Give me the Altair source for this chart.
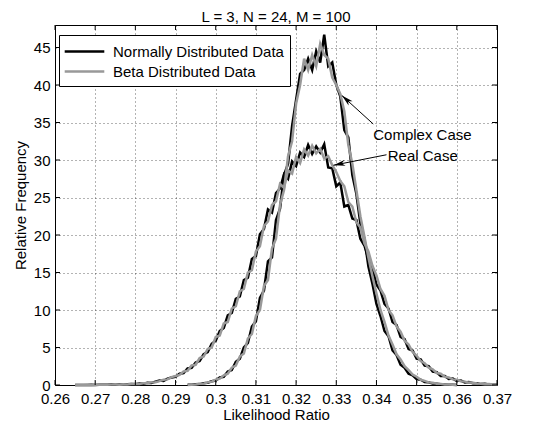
import math
import altair as alt
import pandas as pd

# ---------------- data ----------------
BIN = 0.001
REAL_START = 0.265
CPLX_START = 0.293

real_normal = [
    0.0, 0.0, 0.0, 0.0, 0.02, 0.0, 0.02, 0.03, 0.02, 0.05,
    0.04, 0.06, 0.05, 0.09, 0.12, 0.1, 0.2, 0.18, 0.3, 0.28,
    0.45, 0.6, 0.55, 0.85, 1.0, 1.1, 1.5, 1.6, 2.2, 2.3,
    3.0, 3.2, 4.1, 4.4, 5.5, 5.9, 7.2, 7.6, 9.3, 9.6,
    11.5, 11.8, 14.0, 14.3, 16.8, 17.2, 20.1, 20.8, 23.4, 23.0,
    25.6, 26.2, 28.1, 27.5, 29.8, 29.2, 31.0, 30.4, 32.0, 30.8,
    31.8, 31.0, 32.1, 29.0, 28.9, 26.5, 27.0, 23.8, 24.0, 22.2,
    22.0, 19.5, 18.6, 16.8, 15.6, 13.4, 12.6, 10.8, 10.2, 8.4,
    8.0, 6.4, 6.1, 4.8, 4.6, 3.5, 3.4, 2.6, 2.5, 1.8,
    1.7, 1.2, 1.2, 0.8, 0.85, 0.55, 0.6, 0.35, 0.4, 0.25,
    0.25, 0.12, 0.15, 0.08, 0.05, 0.03,
]
real_beta = [
    0.0, 0.01, 0.0, 0.02, 0.01, 0.03, 0.02, 0.04, 0.03, 0.05,
    0.06, 0.05, 0.08, 0.07, 0.12, 0.15, 0.14, 0.22, 0.25, 0.35,
    0.38, 0.52, 0.7, 0.75, 1.05, 1.2, 1.35, 1.8, 1.9, 2.6,
    2.7, 3.6, 3.8, 4.8, 5.0, 6.4, 6.6, 8.2, 8.4, 10.2,
    10.5, 12.5, 12.8, 15.0, 15.3, 17.8, 18.5, 21.2, 21.8, 24.0,
    24.5, 26.8, 26.3, 28.6, 28.2, 30.4, 29.6, 31.4, 30.6, 31.9,
    30.9, 31.5, 30.2, 30.5, 29.3, 28.4, 27.2, 26.5, 24.4, 23.8,
    21.7, 21.0, 18.9, 17.8, 15.9, 14.6, 12.8, 11.9, 10.0, 9.3,
    7.8, 7.1, 5.9, 5.4, 4.4, 3.9, 3.2, 2.9, 2.3, 2.1,
    1.6, 1.5, 1.1, 1.0, 0.75, 0.7, 0.5, 0.45, 0.32, 0.3,
    0.2, 0.18, 0.1, 0.12, 0.06, 0.04,
]
cplx_normal = [
    0.02, 0.05, 0.1, 0.12, 0.25, 0.3, 0.5, 0.6, 1.0, 1.1,
    1.8, 2.0, 3.1, 3.5, 5.0, 5.6, 7.8, 8.5, 11.6, 12.6,
    16.5, 17.0, 22.0, 23.5, 28.0, 29.5, 34.5, 38.0, 41.5, 42.0,
    43.5, 42.0, 44.5, 43.0, 46.7, 42.5, 43.0, 40.0, 38.5, 34.0,
    33.0, 28.0, 25.5, 21.5, 19.5, 15.8, 13.5, 10.8, 9.2, 7.2,
    6.5, 4.6, 4.0, 2.7, 2.3, 1.5, 1.3, 0.8, 0.7, 0.4,
    0.35, 0.2, 0.18, 0.1, 0.08, 0.05, 0.03, 0.0,
]
cplx_beta = [
    0.0, 0.03, 0.06, 0.15, 0.18, 0.35, 0.45, 0.7, 0.85, 1.3,
    1.5, 2.3, 2.6, 3.8, 4.2, 6.2, 6.8, 9.2, 10.0, 13.2,
    14.0, 18.2, 19.5, 24.0, 26.0, 30.5, 32.5, 37.5, 40.0, 43.5,
    42.0, 44.0, 42.5, 45.5, 44.0, 43.5, 41.0, 40.0, 38.8, 36.5,
    32.0, 29.5, 26.0, 22.5, 19.8, 17.0, 14.5, 12.2, 10.0, 8.4,
    6.6, 5.4, 4.1, 3.4, 2.5, 2.0, 1.4, 1.1, 0.7, 0.55,
    0.35, 0.3, 0.18, 0.15, 0.08, 0.07, 0.03, 0.02,
]

series_names = ["Normally Distributed Data", "Beta Distributed Data"]
series_colors = ["#000000", "#999999"]

x_ticks = [0.26, 0.27, 0.28, 0.29, 0.30, 0.31, 0.32, 0.33, 0.34, 0.35, 0.36, 0.37]
y_ticks = [0, 5, 10, 15, 20, 25, 30, 35, 40, 45]

ann_text = ["Complex Case", "Real Case"]
ann_text_x = [0.3392, 0.3428]
ann_text_y = [33.4, 30.6]
arrow_tail_x = [0.3392, 0.3425]
arrow_tail_y = [34.8, 30.7]
arrow_tip_x = [0.3314, 0.3293]
arrow_tip_y = [38.6, 29.3]

# ---------------- layout ----------------
W, H = 442, 360
XDOM = [0.26, 0.37]
YDOM = [0, 48]
FONT = "Liberation Sans"
TICK = 5


def frame(vals, start, series, case):
    return pd.DataFrame({
        "x": [round(start + BIN * i, 4) for i in range(len(vals))],
        "y": vals,
        "series": series,
        "case": case,
    })


df_black = pd.concat([
    frame(real_normal, REAL_START, series_names[0], "real"),
    frame(cplx_normal, CPLX_START, series_names[0], "complex"),
])
df_gray = pd.concat([
    frame(real_beta, REAL_START, series_names[1], "real"),
    frame(cplx_beta, CPLX_START, series_names[1], "complex"),
])

xs = alt.Scale(domain=XDOM, nice=False, zero=False)
ys = alt.Scale(domain=YDOM, nice=False, zero=False)
cs = alt.Scale(domain=series_names, range=series_colors)

x_axis = alt.Axis(
    values=x_ticks, format=".2~f", title="Likelihood Ratio", labelFlush=False,
    labelOverlap=False, titlePadding=1, labelPadding=6, tickCount=12)
y_axis = alt.Axis(
    values=y_ticks, title="Relative Frequency", titlePadding=5, labelPadding=5,
    labelOverlap=False, labelFlush=False, tickCount=10)


def X(field):
    return alt.X(field, scale=xs, axis=x_axis)


def Y(field):
    return alt.Y(field, scale=ys, axis=y_axis)


legend = alt.Legend(
    title=None, orient="none", legendX=4, legendY=10,
    symbolType="M-1.2,0H3.2", symbolSize=324, symbolStrokeWidth=2.5,
    labelFont=FONT, labelFontSize=15, labelColor="black", labelOffset=27,
    labelLimit=0,
    fillColor="white", strokeColor="black", padding=6, rowPadding=1,
    cornerRadius=0,
)

black = alt.Chart(df_black).mark_line(strokeWidth=2.5).encode(
    x=X("x:Q"), y=Y("y:Q"),
    color=alt.Color("series:N", scale=cs, legend=legend),
    detail="case:N",
)
gray = alt.Chart(df_gray).mark_line(strokeWidth=2.5).encode(
    x=X("x:Q"), y=Y("y:Q"),
    color=alt.Color("series:N", scale=cs, legend=legend),
    detail="case:N",
)

# inward tick marks (MATLAB style box)
xt = pd.DataFrame({"t": x_ticks})
yt = pd.DataFrame({"t": y_ticks})
ticks_bottom = alt.Chart(xt).mark_rule(color="black", strokeWidth=1).encode(
    x=X("t:Q"), y=alt.value(H), y2=alt.value(H - TICK))
ticks_top = alt.Chart(xt).mark_rule(color="black", strokeWidth=1).encode(
    x=X("t:Q"), y=alt.value(0), y2=alt.value(TICK))
ticks_left = alt.Chart(yt).mark_rule(color="black", strokeWidth=1).encode(
    y=Y("t:Q"), x=alt.value(0), x2=alt.value(TICK))
ticks_right = alt.Chart(yt).mark_rule(color="black", strokeWidth=1).encode(
    y=Y("t:Q"), x=alt.value(W), x2=alt.value(W - TICK))

# annotations
sx = W / (XDOM[1] - XDOM[0])
sy = H / (YDOM[1] - YDOM[0])
angles = []
for i in range(len(ann_text)):
    dx = (arrow_tip_x[i] - arrow_tail_x[i]) * sx
    dy = -(arrow_tip_y[i] - arrow_tail_y[i]) * sy
    angles.append(math.degrees(math.atan2(dx, -dy)) % 360)

ann = pd.DataFrame({
    "label": ann_text, "tx": ann_text_x, "ty": ann_text_y,
    "x0": arrow_tail_x, "y0": arrow_tail_y,
    "x1": arrow_tip_x, "y1": arrow_tip_y, "angle": angles,
})
ann_txt = alt.Chart(ann).mark_text(
    align="left", baseline="middle", font=FONT, fontSize=15, color="black"
).encode(x=X("tx:Q"), y=Y("ty:Q"), text="label:N")
ann_line = alt.Chart(ann).mark_rule(color="black", strokeWidth=1).encode(
    x=X("x0:Q"), y=Y("y0:Q"), x2="x1:Q", y2="y1:Q")
ann_head = alt.Chart(ann).mark_point(
    shape="M0,0L-0.45,1.8L0,1.3L0.45,1.8Z", filled=True, color="black",
    size=170, opacity=1,
).encode(x=X("x1:Q"), y=Y("y1:Q"),
         angle=alt.Angle("angle:Q", scale=None))

chart = alt.layer(
    black, gray, ticks_bottom, ticks_top, ticks_left, ticks_right,
    ann_line, ann_head, ann_txt,
).properties(
    width=W, height=H,
    title=alt.TitleParams("L = 3, N = 24, M = 100", font=FONT, fontSize=15,
                          fontWeight="normal", color="black", offset=0),
    autosize=alt.AutoSizeParams(type="none"),
    padding={"left": 47, "top": 17, "right": 31, "bottom": 42},
).configure(background="white").configure_view(
    stroke="black", strokeWidth=1
).configure_axis(
    labelFont=FONT, labelFontSize=15, labelColor="black",
    titleFont=FONT, titleFontSize=15, titleFontWeight="normal", titleColor="black",
    ticks=False, domain=False, grid=True, gridDash=[1, 3], gridColor="#000000",
    gridOpacity=0.6, gridWidth=1,
)

chart.save("out.html", embed_options={"renderer": "svg", "actions": False})
